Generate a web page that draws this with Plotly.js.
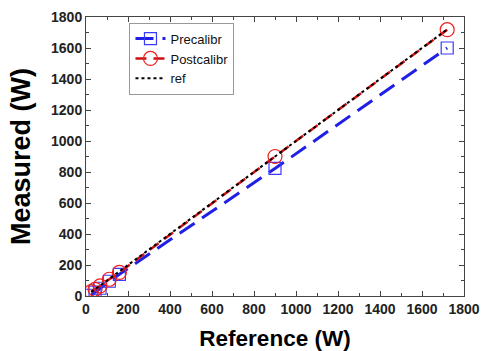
<!DOCTYPE html>
<html>
<head>
<meta charset="utf-8">
<script src="https://cdn.plot.ly/plotly-3.0.1.min.js"></script>
<style>html,body{margin:0;padding:0;background:#fff;}#chart{width:481px;height:351px;}</style>
</head>
<body>
<div id="chart"></div>
<script>
const refX = [25, 43, 67, 111, 159, 900, 1720];
const preY = [5, 25, 50, 95, 140, 823, 1600];
const postY = [28, 43, 65, 108, 152, 900, 1718];
const refY = [25, 43, 67, 111, 159, 900, 1720];
const seriesNames = ['Precalibr', 'Postcalibr', 'ref'];

const traces = [
  {x: refX, y: preY, name: seriesNames[0], mode: 'lines+markers',
   line: {color: '#1f1fe6', width: 3, dash: '18px,9px'},
   marker: {symbol: 'square-open', size: 12, color: '#3a3aff', line: {width: 1.2}}},
  {x: refX, y: postY, name: seriesNames[1], mode: 'lines+markers',
   line: {color: '#d01010', width: 2.5, dash: '11px,7px'},
   marker: {symbol: 'circle-open', size: 14, color: '#ee2020', line: {width: 1.2}}},
  {x: refX, y: refY, name: seriesNames[2], mode: 'lines',
   line: {color: '#000', width: 2, dash: 'dot'}}
];

const axisCommon = {
  range: [0, 1800], dtick: 200, showgrid: false, zeroline: false,
  showline: true, linecolor: '#444', linewidth: 1, mirror: 'ticks',
  ticks: 'inside', ticklen: 5, tickcolor: '#444',
  minor: {dtick: 100, ticks: 'inside', ticklen: 3, tickcolor: '#444'},
  tickfont: {family: 'Liberation Sans, Arial, sans-serif', size: 14, color: '#222', weight: 'bold'}
};

const layout = {
  width: 481, height: 351,
  margin: {l: 86, r: 17, t: 17, b: 55},
  paper_bgcolor: '#fff', plot_bgcolor: '#fff',
  showlegend: true,
  legend: {x: 0.115, y: 0.98, xanchor: 'left', yanchor: 'top',
    bgcolor: '#fff', bordercolor: '#999', borderwidth: 1,
    font: {family: 'Liberation Sans, Arial, sans-serif', size: 13, color: '#111'},
    tracegroupgap: 0, itemwidth: 30},
  xaxis: Object.assign({}, axisCommon, {
    title: {text: 'Reference (W)', standoff: 14,
      font: {family: 'Liberation Sans, Arial, sans-serif', size: 22.5, color: '#000', weight: 'bold'}}
  }),
  yaxis: Object.assign({}, axisCommon, {
    title: {text: 'Measured (W)', standoff: 12,
      font: {family: 'Liberation Sans, Arial, sans-serif', size: 27, color: '#000', weight: 'bold'}}
  })
};

Plotly.newPlot('chart', traces, layout, {staticPlot: true});
</script>
</body>
</html>
